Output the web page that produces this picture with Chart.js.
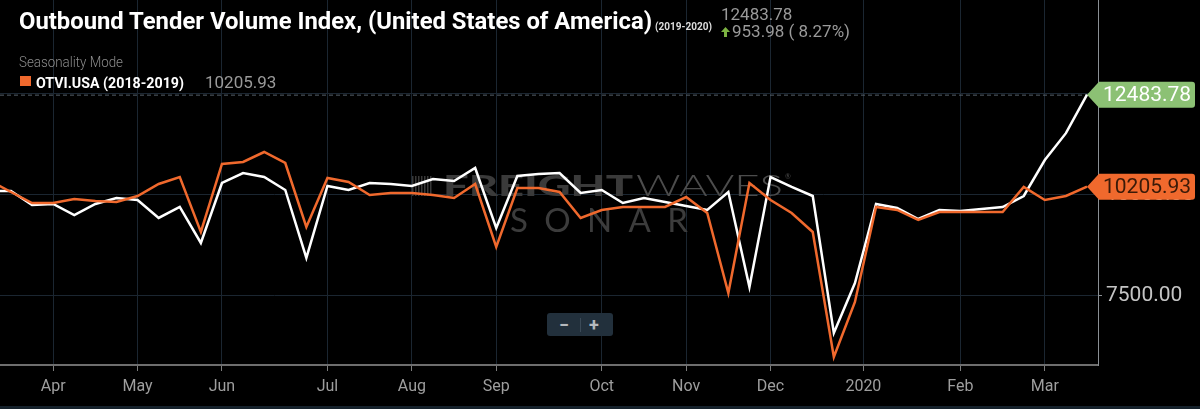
<!DOCTYPE html>
<html lang="en">
<head>
    <meta charset="UTF-8">
    <title>Outbound Tender Volume Index</title>
    <script src="https://cdn.jsdelivr.net/npm/chart.js"></script>
    <style>
        html, body {
            margin: 0;
            padding: 0;
            background: #000;
            overflow: hidden;
        }
        #wrap {
            position: relative;
            width: 1200px;
            height: 409px;
            font-family: Roboto, Arial, sans-serif;
        }
        #otvi { position: absolute; left: 0; top: 0; }
        .txt {
            position: absolute;
            white-space: nowrap;
            line-height: 1;
            transform-origin: 0 0;
        }
        #title { left: 19px; top: 10px; font-size: 23px; font-weight: 700; color: #fff; }
        #years { left: 655px; top: 21px; font-size: 11px; font-weight: 700; color: #ddd; }
        #lastVal { left: 721px; top: 6px; font-size: 17px; color: #9a9a9a; }
        #change { left: 732px; top: 23px; font-size: 17px; color: #9a9a9a; }
        #arrow { position: absolute; left: 721px; top: 27px; }
        #season { left: 19px; top: 55px; font-size: 14px; font-weight: 300; color: #8c8c8c; }
        #swatch { position: absolute; left: 20px; top: 76px; width: 11px; height: 10px; background: #f0692d; }
        #legName { left: 36px; top: 76px; font-size: 14px; font-weight: 700; color: #fff; }
        #legVal { left: 205px; top: 74px; font-size: 17px; color: #9a9a9a; }
        #zoomBox {
            position: absolute; left: 547px; top: 313px; width: 66px; height: 23px;
            background: #22303c; border-radius: 3px;
            color: #b5b9bd; font: 700 18px Roboto, sans-serif;
        }
        #zoomBox span { position: absolute; top: 1px; }
        #zoomBox i { position: absolute; left: 33px; top: 5px; width: 1px; height: 14px; background: #3b4a57; }
        #strip { position: absolute; left: 0; bottom: 0; width: 1200px; height: 3px; background: #15212b; }
    </style>
</head>
<body>
<div id="wrap">
    <canvas id="otvi" width="1200" height="409"></canvas>

    <div class="txt" id="title" data-w="633">Outbound Tender Volume Index, (United States of America)</div>
    <div class="txt" id="years" data-w="57">(2019-2020)</div>
    <div class="txt" id="lastVal"></div>
    <svg id="arrow" width="9" height="10" viewBox="0 0 9 10"><polygon points="4.5,0 9,5 6,5 6,10 3,10 3,5 0,5" fill="#7cb342"/></svg>
    <div class="txt" id="change"></div>
    <div class="txt" id="season" data-w="104">Seasonality Mode</div>
    <div id="swatch"></div>
    <div class="txt" id="legName" data-w="148">OTVI.USA (2018-2019)</div>
    <div class="txt" id="legVal"></div>
    <div id="zoomBox"><span style="left:12px">−</span><i></i><span style="left:42px">+</span></div>
    <div id="strip"></div>
</div>

<script>
    // weekly index values, first entry is the week before the visible range (Mar 17 2019)
    const otvi2019_2020 = [10099, 10099, 9752, 9777, 9505, 9777, 9926, 9876, 9431, 9703,
        8812, 10297, 10544, 10445, 10124, 8441, 10223, 10124, 10297, 10272,
        10223, 10396, 10346, 10668, 9183, 10470, 10520, 10544, 10049, 10124,
        9802, 9926, 9827, 9728, 9629, 10074, 7723, 10445, 10198, 9975,
        6584, 7822, 9777, 9678, 9406, 9629, 9604, 9653, 9703, 9975,
        10866, 11529.80, 12483.78];
    const otvi2018_2019 = [10356, 10074, 9802, 9802, 9901, 9851, 9827, 9975, 10272, 10445,
        9084, 10767, 10817, 11064, 10792, 9208, 10421, 10322, 10000, 10049,
        10049, 10000, 9926, 10272, 8713, 10173, 10173, 10074, 9431, 9629,
        9703, 9703, 9703, 9950, 9554, 7574, 10297, 9876, 9554, 9084,
        5990, 7352, 9703, 9629, 9381, 9579, 9579, 9579, 9579, 10198,
        9876, 9975, 10205.93];

    // month labels and the week they sit on (week 0 = Mar 24 2019)
    const monthLabels = ['Apr', 'May', 'Jun', 'Jul', 'Aug', 'Sep', 'Oct', 'Nov', 'Dec', '2020', 'Feb', 'Mar'];
    const monthWeeks = [2, 6, 10, 15, 19, 23, 28, 32, 36, 40.4, 45, 49];
    const valueTicks = [7500, 10000, 12500];

    const WHITE = '#ffffff';
    const ORANGE = '#f0692d';

    const lastNew = otvi2019_2020[otvi2019_2020.length - 1];
    const prevNew = otvi2019_2020[otvi2019_2020.length - 2];
    const lastOld = otvi2018_2019[otvi2018_2019.length - 1];
    const diff = lastNew - prevNew;

    document.getElementById('lastVal').textContent = lastNew.toFixed(2);
    document.getElementById('change').textContent = diff.toFixed(2) + ' ( ' + (diff / prevNew * 100).toFixed(2) + '%)';
    document.getElementById('legVal').textContent = lastOld.toFixed(2);

    // squeeze header texts to the condensed widths of the original
    document.querySelectorAll('.txt[data-w]').forEach(el => {
        const w = el.getBoundingClientRect().width;
        el.style.transform = 'scaleX(' + (parseFloat(el.dataset.w) / w) + ')';
    });

    const toPoints = arr => arr.map((v, i) => ({ x: i - 1, y: v }));

    // watermark, dashed last-value line
    const backdrop = {
        id: 'backdrop',
        beforeDatasetsDraw(chart) {
            const ctx = chart.ctx;
            ctx.save();
            ctx.fillStyle = '#383838';
            for (let k = 0; k < 7; k++) {
                ctx.fillRect(412 + k * 3, 176, 1.5, 20);
            }
            const drawFit = (text, font, x, base, w, color) => {
                ctx.font = font;
                const m = ctx.measureText(text).width;
                ctx.save();
                ctx.translate(x, base);
                ctx.scale(w / m, 1);
                ctx.fillStyle = color;
                ctx.fillText(text, 0, 0);
                ctx.restore();
            };
            ctx.textBaseline = 'alphabetic';
            drawFit('FREIGHT', '900 29px Lato', 443, 196, 190, '#3a3a3a');
            drawFit('WAVES', '300 29px Lato', 636, 196, 147, '#4c4c4c');
            ctx.font = '7px Lato';
            ctx.fillStyle = '#4c4c4c';
            ctx.fillText('®', 785, 179);
            // SONAR, spaced out
            ctx.font = '400 33px Lato';
            const letters = 'SONAR'.split('');
            const widths = letters.map(c => ctx.measureText(c).width);
            const gap = (178 - widths.reduce((a, b) => a + b, 0)) / (letters.length - 1);
            let px = 510;
            ctx.fillStyle = '#3c3c3c';
            letters.forEach((c, k) => {
                ctx.fillText(c, px, 232);
                px += widths[k] + gap;
            });

            const y = chart.scales.y.getPixelForValue(lastNew);
            ctx.strokeStyle = '#56616b';
            ctx.lineWidth = 1;
            ctx.setLineDash([4, 3]);
            ctx.beginPath();
            ctx.moveTo(chart.chartArea.left, y + 0.5);
            ctx.lineTo(chart.chartArea.right, y + 0.5);
            ctx.stroke();
            ctx.restore();
        }
    };

    // last-value tags on the right axis
    const tags = {
        id: 'tags',
        afterDraw(chart) {
            const ctx = chart.ctx;
            const xs = chart.scales.x, ys = chart.scales.y;
            const items = [
                { v: lastOld, bg: ORANGE, fg: '#3a1a08' },
                { v: lastNew, bg: '#8cc174', fg: '#ffffff' }
            ];
            ctx.save();
            items.forEach(t => {
                const tip = xs.getPixelForValue(otvi2019_2020.length - 2);
                const y = ys.getPixelForValue(t.v);
                const l = chart.chartArea.right - 1, r = 1195, h = 13;
                ctx.fillStyle = t.bg;
                ctx.beginPath();
                ctx.moveTo(tip, y);
                ctx.lineTo(l + 2, y - h);
                ctx.lineTo(r - 3, y - h);
                ctx.quadraticCurveTo(r, y - h, r, y - h + 3);
                ctx.lineTo(r, y + h - 3);
                ctx.quadraticCurveTo(r, y + h, r - 3, y + h);
                ctx.lineTo(l + 2, y + h);
                ctx.closePath();
                ctx.fill();
                ctx.fillStyle = t.fg;
                ctx.font = '21px Roboto';
                ctx.textBaseline = 'middle';
                ctx.textAlign = 'left';
                ctx.fillText(t.v.toFixed(2), 1103, y + 1);
            });
            ctx.restore();
        }
    };

    new Chart(document.getElementById('otvi'), {
        type: 'line',
        data: {
            datasets: [{
                label: 'OTVI.USA (2018-2019)',
                data: toPoints(otvi2018_2019),
                borderColor: ORANGE,
                borderWidth: 2.5,
                pointRadius: 0,
                tension: 0
            }, {
                label: 'OTVI.USA (2019-2020)',
                data: toPoints(otvi2019_2020),
                borderColor: WHITE,
                borderWidth: 2.5,
                pointRadius: 0,
                tension: 0
            }]
        },
        options: {
            responsive: false,
            animation: false,
            devicePixelRatio: 1,
            layout: { padding: 0 },
            plugins: {
                legend: { display: false },
                tooltip: { enabled: false }
            },
            scales: {
                x: {
                    type: 'linear',
                    min: -0.52,
                    max: 51.52,
                    afterBuildTicks: s => { s.ticks = monthWeeks.map(v => ({ value: v })); },
                    afterFit: s => { s.height = 44; s.paddingLeft = 0; s.paddingRight = 0; },
                    ticks: {
                        color: '#9e9e9e',
                        font: { family: 'Roboto', size: 16 },
                        padding: 6,
                        maxRotation: 0,
                        autoSkip: false,
                        callback: v => monthLabels[monthWeeks.indexOf(v)]
                    },
                    grid: { color: '#1b2631', tickColor: '#7d7d7d', tickLength: 6 },
                    border: { color: '#6e6e6e', width: 2 }
                },
                y: {
                    position: 'right',
                    min: 5792,
                    max: 14826,
                    afterBuildTicks: s => { s.ticks = valueTicks.map(v => ({ value: v })); },
                    afterFit: s => { s.width = 102; s.paddingTop = 0; s.paddingBottom = 0; },
                    ticks: {
                        color: '#c4c4c4',
                        font: { family: 'Roboto', size: 21 },
                        padding: 4,
                        callback: v => v.toFixed(2)
                    },
                    grid: { color: '#1b2631', tickColor: '#8a8f94', tickLength: 4 },
                    border: { color: '#8a8f94', width: 1 }
                }
            }
        },
        plugins: [backdrop, tags]
    });
</script>
</body>
</html>
